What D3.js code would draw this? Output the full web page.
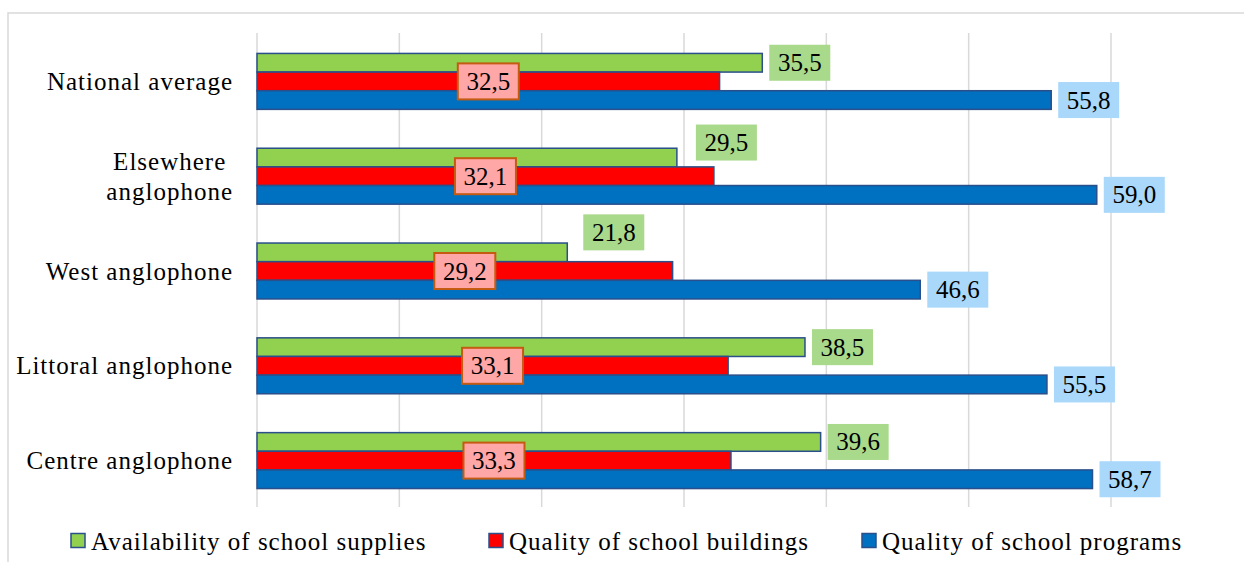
<!DOCTYPE html>
<html>
<head>
<meta charset="utf-8">
<script src="https://cdn.jsdelivr.net/npm/d3@7"></script>
<style>
  html, body { margin: 0; padding: 0; background: #fff; }
  svg { display: block; }
</style>
</head>
<body>
<svg id="chart" width="1244" height="562"></svg>
<script>
// ---- Data ----
const categories = ["National average", "Elsewhere anglophone", "West anglophone", "Littoral anglophone", "Centre anglophone"];
const categoryLines = [["National average"], ["Elsewhere", "anglophone"], ["West anglophone"], ["Littoral anglophone"], ["Centre anglophone"]];
const seriesNames = ["Availability of school supplies", "Quality of school buildings", "Quality of school programs"];
const supplies = [35.5, 29.5, 21.8, 38.5, 39.6];
const buildings = [32.5, 32.1, 29.2, 33.1, 33.3];
const programs = [55.8, 59.0, 46.6, 55.5, 58.7];
const xTicks = [0, 10, 20, 30, 40, 50, 60];

// ---- Layout / style ----
const plot = { left: 257, right: 1111, top: 34, bottom: 508 };
const colors = ["#92D050", "#FF0000", "#0070C0"];
const labelFill = ["#A9D98A", "#FFA6A6", "#A9D8FB"];
const barStroke = "#2A4F8A";
const FONT = "Liberation Serif";
// manual nudges for a few supply labels (as in the original)
const supplyLabelNudge = { "Elsewhere anglophone": [12, -15], "West anglophone": [9, -20] };

const svg = d3.select("#chart");

// outer chart border
svg.append("rect").attr("x", 8).attr("y", 13).attr("width", 1300).attr("height", 700)
  .attr("fill", "none").attr("stroke", "#D9D9D9").attr("stroke-width", 1.5);

const x = d3.scaleLinear().domain([0, 60]).range([plot.left, plot.right]);
const y = d3.scaleBand().domain(categories).range([plot.top, plot.bottom])
  .paddingInner(0.41).paddingOuter(0.205);
const ys = d3.scaleBand().domain(seriesNames).range([0, y.bandwidth()]);

// gridlines
svg.append("g").selectAll("line").data(xTicks).join("line")
  .attr("x1", d => x(d)).attr("x2", d => x(d))
  .attr("y1", plot.top - 1).attr("y2", plot.bottom - 1)
  .attr("stroke", "#D9D9D9").attr("stroke-width", 1.5);

const seriesData = [supplies, buildings, programs];

// bars
seriesData.forEach((vals, si) => {
  svg.append("g").selectAll("rect").data(vals).join("rect")
    .attr("x", x(0))
    .attr("y", (d, i) => y(categories[i]) + ys(seriesNames[si]))
    .attr("width", d => x(d) - x(0))
    .attr("height", ys.bandwidth())
    .attr("fill", colors[si])
    .attr("stroke", barStroke).attr("stroke-width", 1.5);
});

// data labels
const fmt = v => d3.format(".1f")(v).replace(".", ",");
const boxW = 61, boxH = 36;
seriesData.forEach((vals, si) => {
  const g = svg.append("g");
  vals.forEach((v, i) => {
    const cat = categories[i];
    let cy = y(cat) + ys(seriesNames[si]) + ys.bandwidth() / 2;
    let bx;
    if (si === 1) {
      bx = (x(0) + x(v)) / 2 - boxW / 2;
    } else {
      bx = x(v) + 7;
    }
    if (si === 0 && supplyLabelNudge[cat]) {
      bx += supplyLabelNudge[cat][0];
      cy += supplyLabelNudge[cat][1];
    }
    g.append("rect").attr("x", bx).attr("y", cy - boxH / 2)
      .attr("width", boxW).attr("height", boxH)
      .attr("fill", labelFill[si])
      .attr("stroke", si === 1 ? "#C55A11" : "none")
      .attr("stroke-width", si === 1 ? 2 : 0);
    g.append("text").attr("x", bx + boxW / 2).attr("y", cy + 8.5)
      .attr("text-anchor", "middle").attr("font-size", 25)
      .style("font-family", FONT).attr("fill", "#000")
      .text(fmt(v));
  });
});

// category labels
const labelRight = 233;
categories.forEach((cat, i) => {
  const lines = categoryLines[i];
  const cy = y(cat) + y.bandwidth() / 2;
  const g = svg.append("g");
  const texts = lines.map((ln, li) => g.append("text")
    .attr("font-size", 25).style("font-family", FONT).attr("letter-spacing", 1)
    .attr("fill", "#000")
    .attr("y", cy + 8.5 + (li - (lines.length - 1) / 2) * 30)
    .text(ln));
  const widths = texts.map(t => t.node().getComputedTextLength());
  const maxW = d3.max(widths);
  texts.forEach(t => t.attr("text-anchor", "middle").attr("x", labelRight - maxW / 2));
});

// legend
const legendX = [71, 489, 862];
const legendY = 541;
seriesNames.forEach((name, si) => {
  const g = svg.append("g").attr("transform", `translate(${legendX[si]},${legendY})`);
  g.append("rect").attr("x", 0).attr("y", -7.5).attr("width", 14).attr("height", 14)
    .attr("fill", colors[si]).attr("stroke", barStroke).attr("stroke-width", 1.5);
  g.append("text").attr("x", 20).attr("y", 9).attr("font-size", 25)
    .style("font-family", FONT).attr("letter-spacing", 1).attr("fill", "#000")
    .text(name);
});
</script>
</body>
</html>
